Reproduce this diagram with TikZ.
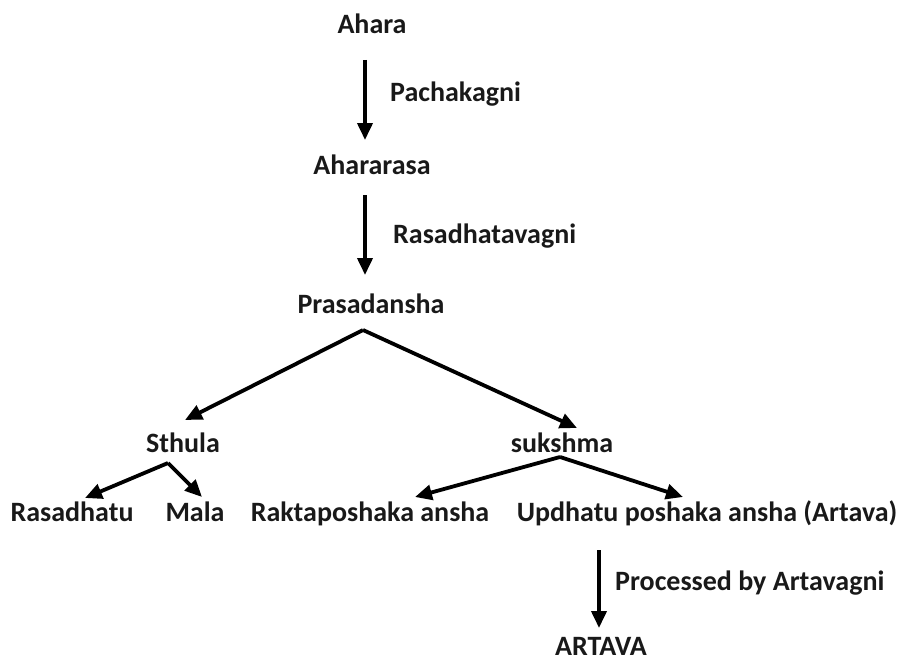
\documentclass[tikz,border=0pt]{standalone}
\usepackage{fontspec}
\setmainfont{Carlito}
\usetikzlibrary{arrows.meta}
\begin{document}
\begin{tikzpicture}[x=1pt,y=-1pt,
  lbl/.style={font=\fontsize{28}{30}\selectfont\bfseries, text=black!90, inner sep=0pt, anchor=base},
  side/.style={lbl, anchor=base west},
  arr/.style={line width=3.8pt, -{Triangle[length=17pt,width=15pt]}}]
\useasboundingbox (0,0) rectangle (900,661);
\node[lbl] (ahara) at (372,34) {Ahara};
\node[lbl] (ahararasa) at (372,174) {Ahararasa};
\node[lbl] (prasad) at (371,313) {Prasadansha};
\node[lbl] (sthula) at (183,452) {Sthula};
\node[lbl] (sukshma) at (562,452) {sukshma};
\node[lbl] (rasadhatu) at (72,521) {Rasadhatu};
\node[lbl] (mala) at (195,521) {Mala};
\node[lbl] (rakta) at (370,521) {Raktaposhaka ansha};
\node[lbl] (updhatu) at (707,521) {Updhatu poshaka ansha (Artava)};
\node[lbl] (artava) at (601,655) {ARTAVA};
\node[side] (l1) at (390,102) {Pachakagni};
\node[side] (l2) at (393,243) {Rasadhatavagni};
\node[side] (l3) at (615,590) {Processed by Artavagni};
\coordinate (a1s) at (365,60); \coordinate (a1e) at (365,140);
\coordinate (a2s) at (365,195); \coordinate (a2e) at (365,275);
\coordinate (p) at (363,330);
\coordinate (pl) at (185,420); \coordinate (pr) at (577,428);
\coordinate (s) at (168,463);
\coordinate (sl) at (85,498); \coordinate (sr) at (202,497);
\coordinate (k) at (560,457);
\coordinate (kl) at (415,497); \coordinate (kr) at (683,497);
\coordinate (a3s) at (599,550); \coordinate (a3e) at (599,628);
\draw[arr] (a1s) -- (a1e);
\draw[arr] (a2s) -- (a2e);
\draw[arr] (p) -- (pl);
\draw[arr] (p) -- (pr);
\draw[arr] (s) -- (sl);
\draw[arr] (s) -- (sr);
\draw[arr] (k) -- (kl);
\draw[arr] (k) -- (kr);
\draw[arr] (a3s) -- (a3e);
\end{tikzpicture}
\end{document}
